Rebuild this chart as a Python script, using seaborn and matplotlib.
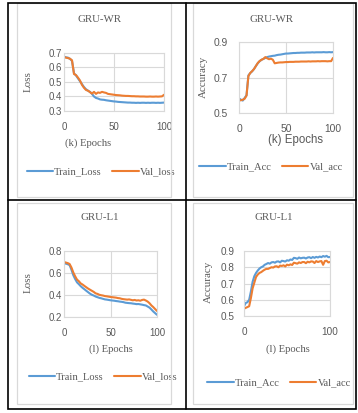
import matplotlib
matplotlib.use("Agg")
import matplotlib.pyplot as plt
import seaborn as sns
from matplotlib.patches import Rectangle
from matplotlib.lines import Line2D

W, H = 358, 413
BLUE = "#5B9BD5"
ORANGE = "#ED7D31"
GRID = "#D9D9D9"
TEXT = "#595959"
SERIF = "Liberation Serif"
SANS = "Liberation Sans"

# epochs sampled every 2
epochs = list(range(0, 101, 2))

wr_train_loss = [0.675, 0.670, 0.668, 0.660, 0.645, 0.560, 0.545, 0.525, 0.505, 0.485,
                 0.465, 0.450, 0.440, 0.432, 0.418, 0.400, 0.390, 0.386, 0.380, 0.378,
                 0.377, 0.374, 0.372, 0.370, 0.368, 0.366, 0.365, 0.363, 0.362, 0.361,
                 0.360, 0.359, 0.358, 0.358, 0.357, 0.357, 0.356, 0.357, 0.356, 0.357,
                 0.357, 0.356, 0.357, 0.356, 0.357, 0.357, 0.356, 0.357, 0.356, 0.357, 0.358]
wr_val_loss = [0.672, 0.668, 0.665, 0.660, 0.650, 0.555, 0.548, 0.530, 0.510, 0.480,
               0.460, 0.445, 0.440, 0.430, 0.420, 0.432, 0.418, 0.428, 0.425, 0.432,
               0.428, 0.425, 0.418, 0.416, 0.414, 0.412, 0.410, 0.409, 0.408, 0.406,
               0.405, 0.404, 0.404, 0.403, 0.402, 0.402, 0.401, 0.401, 0.400, 0.400,
               0.400, 0.399, 0.399, 0.400, 0.399, 0.399, 0.400, 0.399, 0.400, 0.401, 0.412]
wr_train_acc = [0.582, 0.575, 0.570, 0.585, 0.600, 0.712, 0.725, 0.735, 0.748, 0.765,
                0.780, 0.792, 0.800, 0.805, 0.810, 0.815, 0.818, 0.820, 0.822, 0.823,
                0.826, 0.828, 0.829, 0.831, 0.833, 0.835, 0.835, 0.836, 0.837, 0.838,
                0.838, 0.839, 0.839, 0.840, 0.840, 0.840, 0.841, 0.841, 0.841, 0.842,
                0.841, 0.842, 0.842, 0.842, 0.842, 0.843, 0.842, 0.842, 0.843, 0.842, 0.843]
wr_val_acc = [0.570, 0.572, 0.575, 0.580, 0.598, 0.708, 0.726, 0.736, 0.748, 0.765,
              0.782, 0.793, 0.800, 0.805, 0.815, 0.808, 0.803, 0.806, 0.800, 0.780,
              0.782, 0.784, 0.785, 0.785, 0.786, 0.787, 0.787, 0.788, 0.788, 0.788,
              0.789, 0.789, 0.789, 0.790, 0.790, 0.790, 0.790, 0.791, 0.790, 0.791,
              0.791, 0.791, 0.792, 0.791, 0.792, 0.792, 0.792, 0.791, 0.792, 0.792, 0.810]

l1_train_loss = [0.690, 0.685, 0.680, 0.672, 0.630, 0.580, 0.545, 0.515, 0.498, 0.480,
                 0.465, 0.452, 0.438, 0.425, 0.412, 0.402, 0.395, 0.386, 0.380, 0.374,
                 0.370, 0.365, 0.360, 0.358, 0.355, 0.352, 0.350, 0.348, 0.345, 0.343,
                 0.340, 0.338, 0.335, 0.330, 0.328, 0.326, 0.325, 0.322, 0.320, 0.317,
                 0.318, 0.315, 0.312, 0.308, 0.305, 0.295, 0.285, 0.268, 0.250, 0.235, 0.220]
l1_val_loss = [0.700, 0.695, 0.690, 0.682, 0.650, 0.605, 0.570, 0.540, 0.525, 0.505,
               0.495, 0.482, 0.470, 0.458, 0.448, 0.438, 0.428, 0.415, 0.410, 0.402,
               0.398, 0.395, 0.390, 0.388, 0.385, 0.382, 0.380, 0.378, 0.376, 0.372,
               0.370, 0.365, 0.362, 0.360, 0.358, 0.360, 0.356, 0.352, 0.355, 0.350,
               0.352, 0.348, 0.355, 0.358, 0.350, 0.340, 0.325, 0.305, 0.290, 0.272, 0.255]
l1_train_acc = [0.560, 0.580, 0.585, 0.600, 0.650, 0.710, 0.745, 0.765, 0.780, 0.792,
                0.800, 0.805, 0.815, 0.820, 0.826, 0.822, 0.830, 0.832, 0.828, 0.835,
                0.836, 0.830, 0.840, 0.838, 0.835, 0.843, 0.840, 0.848, 0.845, 0.858,
                0.856, 0.852, 0.860, 0.855, 0.858, 0.859, 0.854, 0.860, 0.862, 0.856,
                0.863, 0.858, 0.864, 0.860, 0.866, 0.862, 0.869, 0.865, 0.870, 0.862, 0.863]
l1_val_acc = [0.545, 0.550, 0.555, 0.560, 0.610, 0.670, 0.705, 0.740, 0.755, 0.765,
              0.770, 0.778, 0.785, 0.790, 0.790, 0.795, 0.800, 0.798, 0.805, 0.806,
              0.800, 0.810, 0.808, 0.812, 0.805, 0.816, 0.812, 0.818, 0.814, 0.828,
              0.825, 0.822, 0.830, 0.826, 0.832, 0.832, 0.825, 0.834, 0.830, 0.836,
              0.835, 0.826, 0.838, 0.832, 0.836, 0.838, 0.815, 0.838, 0.840, 0.830, 0.832]

sns.set_style("white")
plt.rcParams["font.family"] = SANS


def fx(x):
    return x / W


def fy(y):
    return 1 - y / H


def px_rect(x0, y0, x1, y1):
    return [fx(x0), fy(y1), (x1 - x0) / W, (y1 - y0) / H]


fig = plt.figure(figsize=(W / 100, H / 100), dpi=100)

# table cells and chart frames
for x0, y0, x1, y1 in [(17, 3, 171, 197), (193, 3, 353, 197), (17, 203, 171, 404), (193, 203, 353, 404)]:
    fig.add_artist(Rectangle((fx(x0), fy(y1)), (x1 - x0) / W, (y1 - y0) / H,
                             transform=fig.transFigure, fill=False, ec=GRID, lw=0.9))
fig.add_artist(Rectangle((fx(8), fy(409)), (356 - 8) / W, (409 - 2.5) / H,
                         transform=fig.transFigure, fill=False, ec="black", lw=1.2))
fig.add_artist(Line2D([fx(186), fx(186)], [fy(2.5), fy(409)], transform=fig.transFigure, color="black", lw=1.2))
fig.add_artist(Line2D([fx(8), fx(356)], [fy(200), fy(200)], transform=fig.transFigure, color="black", lw=1.2))

panels = [
    dict(box=(64, 53, 164, 111), train=wr_train_loss, val=wr_val_loss, names=("Train_Loss", "Val_loss"),
         ylim=(0.3, 0.7), yticks=[0.3, 0.4, 0.5, 0.6, 0.7], yfmt="{:.1f}", xticks=[0, 50, 100], ypad=1.5, xpad=8,
         tsize=7, title="GRU-WR", title_xy=(100, 20), ylabel="Loss", ylabel_xy=(28, 82),
         xlabel="(k) Epochs", xlabel_xy=(88, 143), xlabel_font=(SERIF, 7.7), legend_xy=(101, 172)),
    dict(box=(239, 42, 333, 113), train=wr_train_acc, val=wr_val_acc, names=("Train_Acc", "Val_acc"),
         ylim=(0.5, 0.9), yticks=[0.5, 0.7, 0.9], yfmt="{:.1f}", xticks=[0, 50, 100], ypad=8, xpad=8,
         tsize=7.4, title="GRU-WR", title_xy=(272, 19), ylabel="Accuracy", ylabel_xy=(203, 77),
         xlabel="(k) Epochs", xlabel_xy=(295, 140), xlabel_font=(SANS, 8.3), legend_xy=(271, 167)),
    dict(box=(64, 251, 157, 317), train=l1_train_loss, val=l1_val_loss, names=("Train_Loss", "Val_loss"),
         ylim=(0.2, 0.8), yticks=[0.2, 0.4, 0.6, 0.8], yfmt="{:.1f}", xticks=[0, 50, 100], ypad=1.5, xpad=8,
         tsize=7, title="GRU-L1", title_xy=(100, 218), ylabel="Loss", ylabel_xy=(28, 283),
         xlabel="(l) Epochs", xlabel_xy=(111, 349), xlabel_font=(SERIF, 7.7), legend_xy=(103, 377)),
    dict(box=(244, 251, 330, 316), train=l1_train_acc, val=l1_val_acc, names=("Train_Acc", "Val_acc"),
         ylim=(0.5, 0.9), yticks=[0.5, 0.6, 0.7, 0.8, 0.9], yfmt="{:.1f}", xticks=[0, 100], ypad=7, xpad=8,
         tsize=7.2, title="GRU-L1", title_xy=(274, 218), ylabel="Accuracy", ylabel_xy=(208, 282),
         xlabel="(l) Epochs", xlabel_xy=(288, 349), xlabel_font=(SERIF, 7.7), legend_xy=(279, 383)),
]

for p in panels:
    ax = fig.add_axes(px_rect(*p["box"]))
    sns.lineplot(x=epochs, y=p["train"], ax=ax, color=BLUE, lw=1.5, label=p["names"][0])
    sns.lineplot(x=epochs, y=p["val"], ax=ax, color=ORANGE, lw=1.5, label=p["names"][1])
    ax.set_xlim(0, 100)
    ax.set_ylim(*p["ylim"])
    ax.set_xticks(p["xticks"])
    ax.set_yticks(p["yticks"])
    ax.set_yticklabels([p["yfmt"].format(v) for v in p["yticks"]])
    ax.grid(True, color=GRID, lw=0.8)
    ax.set_axisbelow(True)
    for s in ax.spines.values():
        s.set_visible(True)
        s.set_color(GRID)
        s.set_linewidth(0.8)
    ax.tick_params(axis="both", length=0, labelsize=p["tsize"], labelcolor=TEXT)
    ax.tick_params(axis="y", pad=p["ypad"])
    ax.tick_params(axis="x", pad=p["xpad"])
    ax.set_xlabel("")
    ax.set_ylabel("")
    leg = ax.legend(loc="center", bbox_to_anchor=(fx(p["legend_xy"][0]), fy(p["legend_xy"][1])),
                    bbox_transform=fig.transFigure, ncol=2, frameon=False, handlelength=2.5,
                    handletextpad=0.1, columnspacing=1.0, borderaxespad=0,
                    prop=dict(family=SERIF, size=7.6))
    for t in leg.get_texts():
        t.set_color(TEXT)
    fig.text(fx(p["title_xy"][0]), fy(p["title_xy"][1]), p["title"], ha="center", va="center",
             family=SERIF, size=7.8, color=TEXT)
    fig.text(fx(p["ylabel_xy"][0]), fy(p["ylabel_xy"][1]), p["ylabel"], ha="center", va="center",
             rotation=90, family=SERIF, size=7.9, color=TEXT)
    fig.text(fx(p["xlabel_xy"][0]), fy(p["xlabel_xy"][1]), p["xlabel"], ha="center", va="center",
             family=p["xlabel_font"][0], size=p["xlabel_font"][1], color=TEXT)

fig.savefig("out.png", dpi=100)
plt.close(fig)
